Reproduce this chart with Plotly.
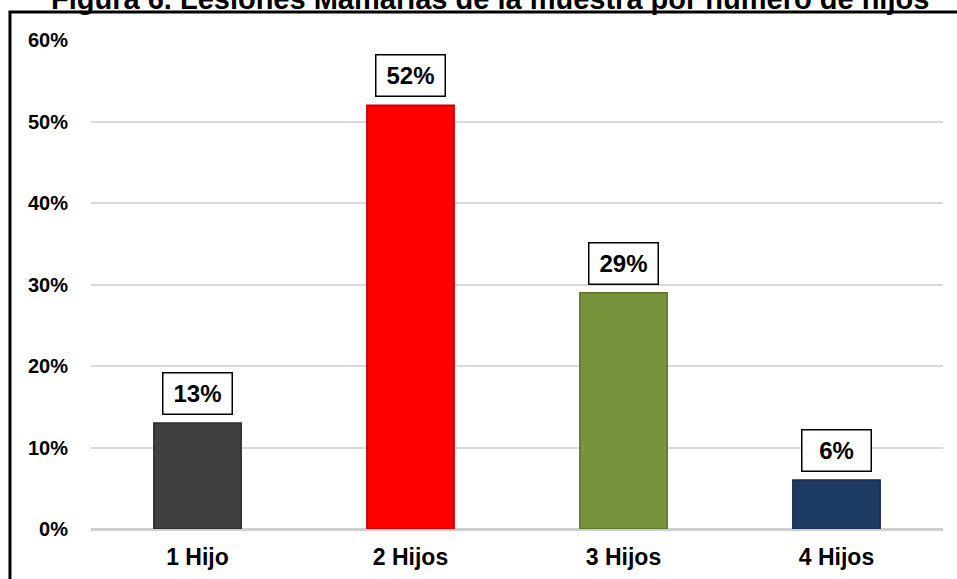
import plotly.graph_objects as go

categories = ["1 Hijo", "2 Hijos", "3 Hijos", "4 Hijos"]
values = [0.13, 0.52, 0.29, 0.06]
bar_colors = ["#404040", "#ff0000", "#77933c", "#1d3a63"]
edge_colors = ["#2a2a2a", "#c00000", "#5a722c", "#132a4a"]
y_ticks = [0, 0.1, 0.2, 0.3, 0.4, 0.5, 0.6]
y_tick_labels = ["0%", "10%", "20%", "30%", "40%", "50%", "60%"]
title_text = "Figura 6. Lesiones Mamarias de la muestra por número de hijos"

FONT = "Liberation Sans, Arial, sans-serif"

fig = go.Figure()
fig.add_trace(go.Bar(
    x=categories, y=values,
    marker=dict(color=bar_colors, line=dict(color=edge_colors, width=1.5)),
    width=0.41,
    hoverinfo="skip",
))

annotations = []
for c, v in zip(categories, values):
    annotations.append(dict(
        x=c, y=v, xref="x", yref="y",
        text=f"<b>{round(v*100)}%</b>",
        showarrow=False, yanchor="bottom", yshift=8,
        font=dict(family=FONT, size=24, color="black"),
        bgcolor="white", bordercolor="black", borderwidth=1.5,
        borderpad=6, width=56, height=28,
    ))

annotations.append(dict(
    x=0.468, y=1.084, xref="paper", yref="paper",
    text=f"<b>{title_text}</b>", showarrow=False,
    xanchor="center", yanchor="middle",
    font=dict(family=FONT, size=29, color="black"),
))

fig.update_layout(
    width=957, height=579,
    margin=dict(l=91, r=14, t=40, b=50, autoexpand=False),
    paper_bgcolor="white", plot_bgcolor="white",
    showlegend=False,
    annotations=annotations,
    shapes=[dict(
        type="rect", xref="paper", yref="paper",
        x0=-0.0951, x1=1.2, y0=-0.3, y1=1.0573,
        line=dict(color="black", width=3), fillcolor="rgba(0,0,0,0)",
        layer="above",
    )],
    font=dict(family=FONT, color="black"),
)

fig.update_xaxes(
    showgrid=False, showline=False, ticks="", automargin=False,
    tickfont=dict(family=FONT, size=23, color="black", weight="bold"),
    ticklabelstandoff=12,
)
fig.update_yaxes(
    range=[0, 0.6], tickvals=y_ticks, ticktext=y_tick_labels,
    showgrid=True, gridcolor="#d9d9d9", gridwidth=1.5,
    zeroline=True, zerolinecolor="#cfcfcf", zerolinewidth=2.5,
    showline=False, ticks="", automargin=False,
    tickfont=dict(family=FONT, size=20, color="black", weight="bold"),
    ticklabelstandoff=22,
)

fig.write_html("out.html")
